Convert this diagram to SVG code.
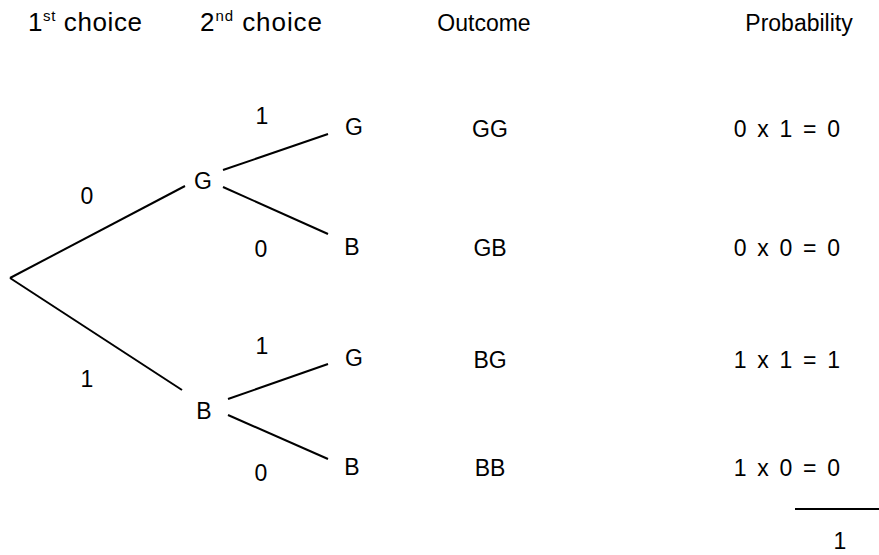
<svg xmlns="http://www.w3.org/2000/svg" width="879" height="555" viewBox="0 0 879 555">
<style>
text{font-family:"Liberation Sans",Arial,sans-serif;font-size:23px;fill:#000}
.h{font-size:26px}
.sup{font-size:15px}
.p{letter-spacing:2.2px}
.e{stroke:#000;stroke-width:2;fill:none}
</style>
<rect width="879" height="555" fill="#fff"/>
<g id="headers">
<text class="h" x="28" y="31" textLength="114" lengthAdjust="spacing">1<tspan class="sup" dy="-10">st</tspan><tspan dy="10"> choice</tspan></text>
<text class="h" x="200" y="31" textLength="122" lengthAdjust="spacing">2<tspan class="sup" dy="-10">nd</tspan><tspan dy="10"> choice</tspan></text>
<text x="484" y="31" text-anchor="middle">Outcome</text>
<text x="799" y="31" text-anchor="middle">Probability</text>
</g>
<g id="connectors">
<line class="e" x1="10" y1="278" x2="185" y2="186"/>
<line class="e" x1="10" y1="278" x2="182" y2="390"/>
<line class="e" x1="223" y1="170" x2="328" y2="134"/>
<line class="e" x1="223" y1="187" x2="328" y2="234"/>
<line class="e" x1="228" y1="399" x2="328" y2="364"/>
<line class="e" x1="228" y1="415" x2="328" y2="459"/>
</g>
<g id="node-G"><text x="203" y="189" text-anchor="middle">G</text></g>
<g id="node-B"><text x="204" y="419" text-anchor="middle">B</text></g>
<g id="leaf-GG"><text x="354" y="135" text-anchor="middle">G</text></g>
<g id="leaf-GB"><text x="352" y="255" text-anchor="middle">B</text></g>
<g id="leaf-BG"><text x="354" y="366" text-anchor="middle">G</text></g>
<g id="leaf-BB"><text x="352" y="475" text-anchor="middle">B</text></g>
<g id="branch-labels">
<text x="87" y="204" text-anchor="middle">0</text>
<text x="87" y="387" text-anchor="middle">1</text>
<text x="262" y="124" text-anchor="middle">1</text>
<text x="261" y="257" text-anchor="middle">0</text>
<text x="262" y="354" text-anchor="middle">1</text>
<text x="261" y="481" text-anchor="middle">0</text>
</g>
<g id="outcomes">
<text x="490" y="137" text-anchor="middle">GG</text>
<text x="490" y="256" text-anchor="middle">GB</text>
<text x="490" y="368" text-anchor="middle">BG</text>
<text x="490" y="476" text-anchor="middle">BB</text>
</g>
<g id="probabilities">
<text class="p" x="788" y="137" text-anchor="middle">0 x 1 = 0</text>
<text class="p" x="788" y="256" text-anchor="middle">0 x 0 = 0</text>
<text class="p" x="788" y="368" text-anchor="middle">1 x 1 = 1</text>
<text class="p" x="788" y="476" text-anchor="middle">1 x 0 = 0</text>
<line class="e" x1="795" y1="509" x2="879" y2="509"/>
<text x="840" y="549" text-anchor="middle">1</text>
</g>
</svg>
